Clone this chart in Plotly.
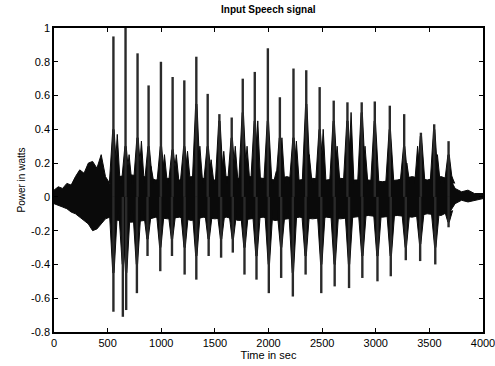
import plotly.graph_objects as go

# ---- data ----
# base (between-pulse) envelope of the waveform
env_t  = [0, 40, 80, 120, 160, 200, 240, 280, 320, 360, 400, 440, 480, 520, 600, 720, 840, 950,
          1060, 1170, 1280, 1390, 1500, 1610, 1720, 1830, 1950, 2060, 2170, 2290, 2410,
          2540, 2670, 2800, 2930, 3060, 3200, 3340, 3480, 3610, 3700, 3740, 3800, 3860, 3920, 4000]
env_hi = [0.04, 0.06, 0.05, 0.08, 0.07, 0.12, 0.16, 0.14, 0.2, 0.21, 0.17, 0.25, 0.12, 0.08, 0.12, 0.13, 0.12, 0.1,
          0.11, 0.1, 0.12, 0.11, 0.1, 0.12, 0.11, 0.12, 0.11, 0.1, 0.12, 0.1, 0.11,
          0.1, 0.11, 0.1, 0.1, 0.09, 0.1, 0.12, 0.1, 0.12, 0.1, 0.05, 0.03, 0.04, 0.02, 0.02]
env_lo = [-0.04, -0.05, -0.06, -0.07, -0.09, -0.1, -0.12, -0.14, -0.16, -0.2, -0.19, -0.16, -0.13, -0.12, -0.14, -0.15, -0.14, -0.12,
          -0.13, -0.12, -0.14, -0.12, -0.13, -0.12, -0.14, -0.13, -0.12, -0.14, -0.13, -0.12, -0.13,
          -0.12, -0.13, -0.12, -0.11, -0.12, -0.11, -0.12, -0.1, -0.11, -0.08, -0.04, -0.02, -0.03, -0.02, -0.01]

# positive pulses: time, peak, solid-core height
pos_t    = [554, 667, 779, 882, 997, 1106, 1215, 1327, 1433, 1542, 1657, 1760, 1872, 1994,
            2106, 2233, 2352, 2477, 2608, 2736, 2869, 2991, 3131, 3265, 3421, 3545, 3679]
pos_v    = [0.95, 1.0, 0.85, 0.66, 0.80, 0.71, 0.69, 0.83, 0.61, 0.49, 0.47, 0.70, 0.74, 0.88,
            0.59, 0.76, 0.75, 0.65, 0.57, 0.56, 0.56, 0.565, 0.54, 0.49, 0.38, 0.43, 0.33]
pos_core = [0.4, 0.3, 0.35, 0.3, 0.3, 0.28, 0.3, 0.55, 0.3, 0.45, 0.35, 0.5, 0.45, 0.45,
            0.35, 0.35, 0.55, 0.4, 0.45, 0.45, 0.5, 0.45, 0.4, 0.3, 0.36, 0.4, 0.25]

# secondary positive bumps next to pulses
sec_t = [590, 700, 815, 905, 1030, 1140, 1245, 1360, 1465, 1583, 1690, 1800, 1900, 2072, 2125,
         2260, 2380, 2510, 2640, 2770, 2900, 3290, 3390, 3575, 3710]
sec_v = [0.37, 0.25, 0.33, 0.18, 0.25, 0.25, 0.27, 0.3, 0.22, 0.27, 0.3, 0.3, 0.45, 0.15, 0.35,
         0.33, 0.25, 0.4, 0.3, 0.5, 0.3, 0.2, 0.3, 0.25, 0.12]

# negative pulses: time, trough, solid-core depth
neg_t    = [554, 642, 673, 773, 872, 991, 1100, 1218, 1327, 1442, 1558, 1667, 1776, 1888,
            2003, 2118, 2227, 2346, 2492, 2617, 2751, 2875, 3016, 3140, 3280, 3414, 3555, 3679]
neg_v    = [-0.68, -0.71, -0.67, -0.57, -0.35, -0.44, -0.35, -0.46, -0.49, -0.35, -0.36, -0.33, -0.46, -0.49,
            -0.57, -0.48, -0.59, -0.46, -0.57, -0.53, -0.54, -0.48, -0.50, -0.47, -0.375, -0.38, -0.40, -0.18]
neg_core = [-0.45, -0.4, -0.45, -0.4, -0.25, -0.3, -0.25, -0.3, -0.35, -0.25, -0.25, -0.25, -0.3, -0.35,
            -0.4, -0.3, -0.45, -0.35, -0.4, -0.4, -0.4, -0.35, -0.35, -0.35, -0.3, -0.28, -0.3, -0.15]

x_ticks = [0, 500, 1000, 1500, 2000, 2500, 3000, 3500, 4000]
y_ticks = [-0.8, -0.6, -0.4, -0.2, 0, 0.2, 0.4, 0.6, 0.8, 1]
y_tick_text = ["-0.8", "-0.6", "-0.4", "-0.2", "0", "0.2", "0.4", "0.6", "0.8", "1"]

# ---- build marks ----
HW = 38  # half-width of pulse core (style)

fig = go.Figure()

# base envelope polygon
fig.add_trace(go.Scatter(x=env_t + env_t[::-1], y=env_hi + env_lo[::-1], fill="toself",
                         fillcolor="#0a0a0a", line=dict(color="#0a0a0a", width=1), mode="lines",
                         hoverinfo="skip"))

# pulse cores (triangles)
cx, cy = [], []
for t, c in zip(pos_t, pos_core):
    cx += [t - HW, t - 6, t + 6, t + HW, None]
    cy += [0.08, c, c, 0.08, None]
for t, c in zip(sec_t, sec_v):
    cx += [t - HW * 0.7, t, t + HW * 0.7, None]
    cy += [0.08, c, 0.08, None]
for t, c in zip(neg_t, neg_core):
    cx += [t - HW, t - 6, t + 6, t + HW, None]
    cy += [-0.08, c, c, -0.08, None]
fig.add_trace(go.Scatter(x=cx, y=cy, fill="toself", fillcolor="#0a0a0a",
                         line=dict(color="#0a0a0a", width=1), mode="lines", hoverinfo="skip"))

# thin spikes to the extremes
sx, sy = [], []
for t, v in zip(pos_t, pos_v):
    sx += [t, t, None]
    sy += [0, v, None]
for t, v in zip(neg_t, neg_v):
    sx += [t, t, None]
    sy += [0, v, None]
fig.add_trace(go.Scatter(x=sx, y=sy, mode="lines", line=dict(color="#2a2a2a", width=2.4),
                         hoverinfo="skip"))

axis_common = dict(showgrid=False, zeroline=False, showline=True, linecolor="black",
                   linewidth=1.5, mirror="ticks", ticks="inside", ticklen=4, tickcolor="black",
                   automargin=False, ticklabeloverflow="allow",
                   tickfont=dict(family="Liberation Sans", size=11, color="black"))

fig.update_layout(
    width=495, height=366,
    margin=dict(l=54, r=12, t=28, b=34),
    paper_bgcolor="white", plot_bgcolor="white",
    showlegend=False,
    title=dict(text="<b>Input Speech signal</b>", x=0.542, xanchor="center", y=0.975, yanchor="middle",
               font=dict(family="Liberation Sans", size=10, color="black")),
    xaxis=dict(range=[0, 4000], tickvals=x_ticks, title=dict(text="Time in sec", standoff=0,
               font=dict(family="Liberation Sans", size=11, color="black")), **axis_common),
    yaxis=dict(range=[-0.8, 1], tickvals=y_ticks, ticktext=y_tick_text,
               title=dict(text="Power in watts", standoff=4,
                          font=dict(family="Liberation Sans", size=10, color="black")),
               **axis_common),
)

fig.write_html("out.html")
